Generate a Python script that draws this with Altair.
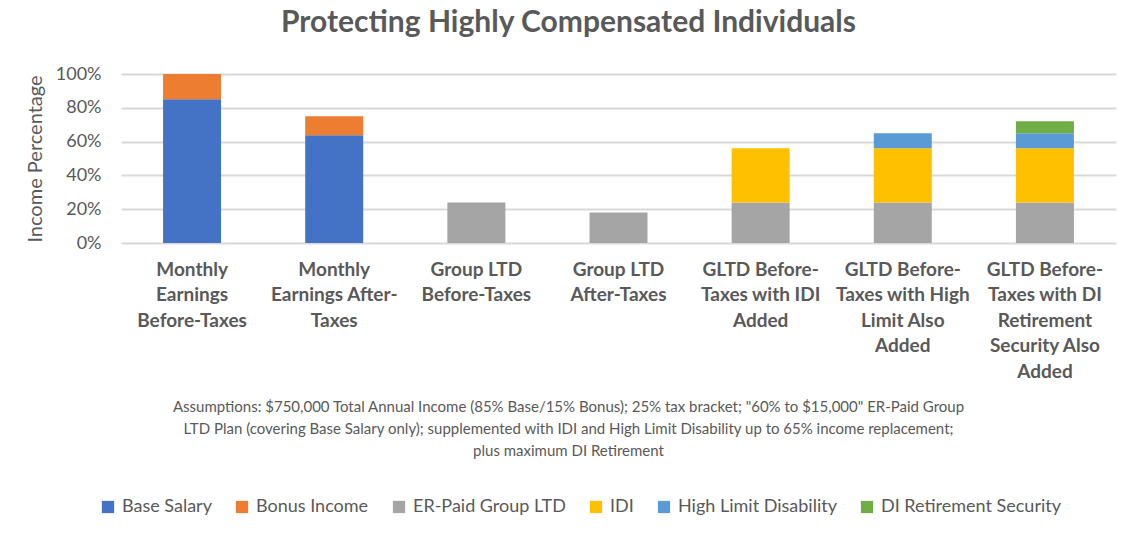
import altair as alt
import pandas as pd

categories = [
    "Monthly|Earnings|Before-Taxes",
    "Monthly|Earnings After-|Taxes",
    "Group LTD|Before-Taxes",
    "Group LTD|After-Taxes",
    "GLTD Before-|Taxes with IDI|Added",
    "GLTD Before-|Taxes with High|Limit Also|Added",
    "GLTD Before-|Taxes with DI|Retirement|Security Also|Added",
]
series = ["Base Salary", "Bonus Income", "ER-Paid Group LTD", "IDI",
          "High Limit Disability", "DI Retirement Security"]
colors = ["#4472C4", "#ED7D31", "#A5A5A5", "#FFC000", "#5B9BD5", "#70AD47"]

base_salary = [0.85, 0.6375, 0, 0, 0, 0, 0]
bonus_income = [0.15, 0.1125, 0, 0, 0, 0, 0]
group_ltd = [0, 0, 0.24, 0.18, 0.24, 0.24, 0.24]
idi = [0, 0, 0, 0, 0.32, 0.32, 0.32]
high_limit = [0, 0, 0, 0, 0, 0.09, 0.09]
di_retirement = [0, 0, 0, 0, 0, 0, 0.07]

values = [base_salary, bonus_income, group_ltd, idi, high_limit, di_retirement]
rows = []
for si, (s, vals) in enumerate(zip(series, values)):
    for c, v in zip(categories, vals):
        if v > 0:
            rows.append({"Category": c, "Series": s, "Value": v, "Order": si})
df = pd.DataFrame(rows)

footnote = [
    "Assumptions: $750,000 Total Annual Income (85% Base/15% Bonus); 25% tax bracket; \"60% to $15,000\" ER-Paid Group",
    "LTD Plan (covering Base Salary only); supplemented with IDI and High Limit Disability up to 65% income replacement;",
    "plus maximum DI Retirement",
]

grey = "#595959"
font = "Lato"

chart = alt.Chart(df).mark_bar(size=58).encode(
    x=alt.X("Category:N", sort=categories,
            scale=alt.Scale(paddingInner=0.5, paddingOuter=0.25),
            axis=alt.Axis(title=footnote, labelExpr="split(datum.label, '|')",
                          labelAngle=0, labelFontSize=19, labelFontWeight="bold",
                          labelColor=grey, labelLineHeight=25.5, labelPadding=17,
                          labelLimit=300, labelBaseline="top",
                          domain=False, ticks=False,
                          titleFontSize=15, titleFontWeight="normal", titleColor=grey,
                          titleLineHeight=22, titlePadding=18, titleFont=font, labelFont=font,
                          titleX=447, titleAlign="center")),
    y=alt.Y("Value:Q", stack="zero",
            scale=alt.Scale(domain=[0, 1]),
            axis=alt.Axis(title="Income Percentage", format="%", values=[0, 0.2, 0.4, 0.6, 0.8, 1.0],
                          labelFontSize=18, labelColor=grey, labelPadding=20,
                          domain=False, ticks=False, gridColor="#D9D9D9", gridWidth=2,
                          titleFontSize=20, titleFontWeight="normal", titleColor=grey,
                          titlePadding=10, titleFont=font, labelFont=font)),
    color=alt.Color("Series:N", sort=series,
                    scale=alt.Scale(domain=series, range=colors),
                    legend=alt.Legend(title=None, orient="none", direction="horizontal",
                                      legendX=-22, legendY=424, columns=6,
                                      symbolType="square", symbolSize=150,
                                      symbolStrokeWidth=0, labelFontSize=18,
                                      labelColor=grey, labelFont=font, labelLimit=400,
                                      columnPadding=21, labelOffset=5)),
    order=alt.Order("Order:Q"),
).properties(
    width=995, height=169, background="white",
    title=alt.TitleParams("Protecting Highly Compensated Individuals", fontSize=30,
                          fontWeight="bold", color=grey, font=font, anchor="middle",
                          offset=27, dx=-50),
    padding={"left": 25, "top": 8, "right": 5, "bottom": 5},
).configure_view(stroke=None)

chart.save("out.html", embed_options={"renderer": "svg", "actions": False})
